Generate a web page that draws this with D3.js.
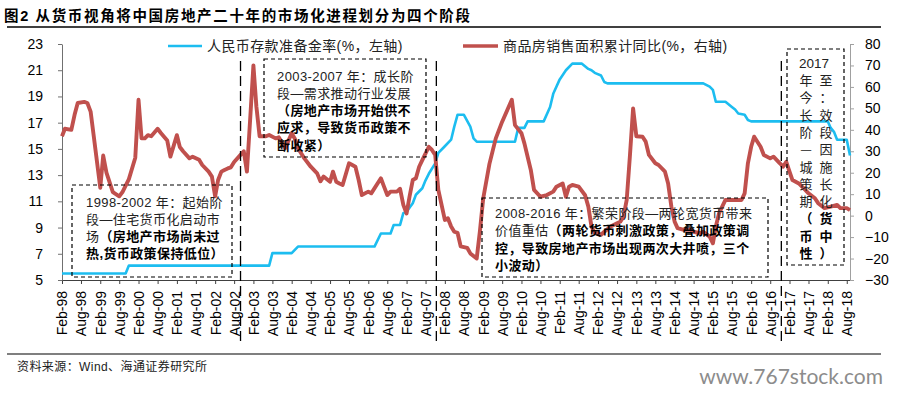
<!DOCTYPE html>
<html>
<head>
<meta charset="utf-8">
<script src="https://cdn.jsdelivr.net/npm/d3@7"></script>
<style>
	body { margin: 0; background: #fff; }
	svg { display: block; font-family: "Liberation Sans", Arial, "Noto Sans CJK SC", sans-serif; }
</style>
</head>
<body>
<svg id="chart" width="899" height="394"></svg>
<script>
// 人民币存款准备金率 (%, left axis) — step points
const rrrSeries = [
	["1998-02", 5.5], ["1999-10", 5.5], ["1999-11", 6.1], ["2003-07", 6.1], ["2003-08", 7.05],
	["2004-02", 7.05], ["2004-04", 7.55], ["2006-04", 7.55], ["2006-06", 8.55], ["2006-09", 8.55],
	["2006-10", 9.2], ["2006-12", 9.2], ["2007-01", 10.1], ["2007-02", 10.2], ["2007-04", 10.85],
	["2007-05", 11.5], ["2007-07", 12], ["2007-08", 12.6], ["2007-09", 13.1], ["2007-11", 13.9],
	["2007-12", 14.7], ["2008-02", 15.2], ["2008-04", 15.7], ["2008-05", 16.7], ["2008-06", 17.6],
	["2008-08", 17.6], ["2008-10", 16.7], ["2008-11", 15.8], ["2008-12", 15.55], ["2009-12", 15.55],
	["2010-01", 16.6], ["2010-03", 16.6], ["2010-04", 17.1], ["2010-09", 17.1], ["2010-11", 18.2],
	["2010-12", 19.2], ["2011-02", 20.3], ["2011-04", 21], ["2011-06", 21.5], ["2011-09", 21.5],
	["2011-11", 21.1], ["2011-12", 21], ["2012-01", 20.8], ["2012-03", 20.6], ["2012-04", 20.1],
	["2012-05", 20], ["2014-11", 20], ["2015-01", 19.75], ["2015-02", 19.5], ["2015-03", 18.6],
	["2015-06", 18.6], ["2015-08", 18.2], ["2015-09", 18], ["2015-10", 17.7], ["2015-12", 17.6],
	["2016-01", 17.2], ["2016-02", 17.1], ["2018-02", 17.1], ["2018-03", 16.6], ["2018-04", 16.3],
	["2018-05", 15.7], ["2018-08", 15.7], ["2018-09", 14.5]
];

// 商品房销售面积累计同比 (%, right axis)
const salesSeries = [
	["1998-02", 37], ["1998-03", 40.5], ["1998-05", 40], ["1998-06", 47], ["1998-07", 52.5],
	["1998-09", 53], ["1998-10", 52.5], ["1998-11", 48.5], ["1998-12", 37], ["1999-02", 13],
	["1999-03", 28], ["1999-04", 20], ["1999-06", 11], ["1999-08", 9], ["1999-09", 11],
	["1999-11", 17], ["2000-01", 27], ["2000-02", 54], ["2000-03", 36], ["2000-04", 36],
	["2000-05", 37.5], ["2000-06", 37], ["2000-08", 40.5], ["2000-09", 38.5], ["2000-11", 35],
	["2000-12", 27.5], ["2001-02", 37.5], ["2001-03", 32], ["2001-04", 30], ["2001-06", 26.7],
	["2001-07", 27.5], ["2001-09", 26], ["2001-10", 23.6], ["2001-12", 20.5], ["2002-01", 18.2],
	["2002-02", 9], ["2002-03", 16.6], ["2002-04", 20.5], ["2002-05", 21.3], ["2002-06", 22],
	["2002-07", 22.5], ["2002-08", 25], ["2002-10", 28.3], ["2002-11", 30], ["2002-12", 20.5],
	["2003-01", 45], ["2003-02", 70], ["2003-03", 51], ["2003-04", 37], ["2003-06", 37],
	["2003-07", 37.6], ["2003-09", 36], ["2003-10", 36.5], ["2003-11", 34], ["2003-12", 31.4],
	["2004-02", 38.4], ["2004-03", 36], ["2004-04", 31.4], ["2004-06", 26.7], ["2004-08", 22.8],
	["2004-10", 19.7], ["2004-11", 16], ["2004-12", 18.2], ["2005-02", 15.8], ["2005-03", 20.5],
	["2005-04", 15.8], ["2005-05", 15], ["2005-06", 14.3], ["2005-08", 24.4], ["2005-09", 23.6],
	["2005-10", 22.8], ["2005-11", 16.6], ["2005-12", 9.6], ["2006-02", 11.2], ["2006-03", 10.4],
	["2006-06", 17.4], ["2006-07", 13.5], ["2006-08", 9.6], ["2006-09", 11.2], ["2006-11", 11.2],
	["2006-12", 12.5], ["2007-01", 5], ["2007-02", 1], ["2007-03", 8.8], ["2007-04", 16.6],
	["2007-05", 17.4], ["2007-06", 22.8], ["2007-07", 25.9], ["2007-09", 32.1], ["2007-10", 30.6],
	["2007-11", 28.3], ["2007-12", 12], ["2008-02", -2], ["2008-03", -1.2], ["2008-04", -5.1],
	["2008-05", -7.5], ["2008-06", -8], ["2008-07", -14.3], ["2008-09", -15], ["2008-10", -17.6],
	["2008-12", -20], ["2009-01", -7], ["2009-02", 8], ["2009-04", 24], ["2009-06", 36],
	["2009-08", 43.8], ["2009-11", 54], ["2009-12", 42.2], ["2010-02", 38.4], ["2010-03", 33.7],
	["2010-05", 21.3], ["2010-06", 12], ["2010-08", 8.8], ["2010-10", 9.6], ["2010-12", 11.2],
	["2011-01", 13.5], ["2011-03", 15], ["2011-04", 8.8], ["2011-05", 13.5], ["2011-06", 14.3],
	["2011-08", 13.5], ["2011-10", 9.5], ["2011-11", 4.2], ["2011-12", -5.1], ["2012-01", -8],
	["2012-03", -8.9], ["2012-04", -7.5], ["2012-06", -5.1], ["2012-08", -3.6], ["2012-09", -2.8],
	["2012-10", -0.5], ["2012-11", 7.3], ["2012-12", 27.5], ["2013-01", 50], ["2013-02", 37],
	["2013-04", 36.8], ["2013-05", 34.5], ["2013-06", 28.3], ["2013-08", 24.4], ["2013-09", 23.6],
	["2013-11", 20.5], ["2013-12", 15], ["2014-01", 4.2], ["2014-02", -2.8], ["2014-03", -5.8],
	["2014-05", -6.6], ["2014-07", -6.6], ["2014-08", -7.5], ["2014-10", -8.2], ["2014-11", -7.5],
	["2015-01", -9.8], ["2015-02", -12.9], ["2015-03", -5.1], ["2015-04", 1.1], ["2015-05", 4.2],
	["2015-06", 7.3], ["2015-11", 7.3], ["2015-12", 10.4], ["2016-01", 24.4], ["2016-02", 32.1],
	["2016-03", 36.8], ["2016-05", 32.1], ["2016-06", 28.3], ["2016-08", 26.7], ["2016-09", 27.5],
	["2016-11", 24.4], ["2016-12", 22.8], ["2017-01", 25.1], ["2017-02", 20.5], ["2017-03", 16.6],
	["2017-05", 15], ["2017-07", 12], ["2017-08", 10.4], ["2017-10", 8.1], ["2017-11", 5.8],
	["2018-01", 3.5], ["2018-03", 4.2], ["2018-05", 5], ["2018-06", 3.5], ["2018-08", 3.5],
	["2018-09", 2.6]
];

const leftTicks = d3.range(5, 24, 2);
const rightTicks = d3.range(-30, 81, 10);
const tickCount = 42; // Feb-98 ... Aug-18, every 6 months
const legendNames = ["人民币存款准备金率(%，左轴)", "商品房销售面积累计同比(%，右轴)"];
const stageDividers = ["2002-10-01", "2007-11-12", "2016-11-15"];

const titleText = "图2  从货币视角将中国房地产二十年的市场化进程划分为四个阶段";
const sourceText = "资料来源：Wind、海通证券研究所";
const watermark = "www.767stock.com";

// stage boxes: [text, bold] segments per line
const stages = [
	{ box: [72, 185, 232, 277], tx: 86, ty: 206.5, lines: [
		[["1998-2002 年：起始阶", false]],
		[["段—住宅货币化启动市", false]],
		[["场", false], ["（房地产市场尚未过", true]],
		[["热,货币政策保持低位）", true]]
	]},
	{ box: [264, 59, 426, 157], tx: 277, ty: 80.5, lines: [
		[["2003-2007 年：成长阶", false]],
		[["段—需求推动行业发展", false]],
		[["（房地产市场开始供不", true]],
		[["应求，导致货币政策不", true]],
		[["断收紧）", true]]
	]},
	{ box: [482, 198, 768, 277], tx: 495, ty: 218, lines: [
		[["2008-2016 年：繁荣阶段—两轮宽货币带来", false]],
		[["价值重估", false], ["（两轮货币刺激政策，叠加政策调", true]],
		[["控，导致房地产市场出现两次大井喷，三个", true]],
		[["小波动）", true]]
	]}
];
const lastStageRows = [
	["年", "至", false], ["今", "：", false], ["长", "效", false], ["阶", "段", false],
	["—", "因", false], ["城", "施", false], ["策", "长", false], ["期", "化", false],
	["（", "货", true], ["币", "中", true], ["性", "）", true]
];

const svg = d3.select("svg#chart");
const margin = { top: 44, right: 49, bottom: 114, left: 62 };
const width = +svg.attr("width");
const height = +svg.attr("height");
const plotRight = width - margin.right;
const plotBottom = height - margin.bottom;

const parseMonth = d3.timeParse("%Y-%m");
const parseDay = d3.timeParse("%Y-%m-%d");
const start = parseMonth("1998-02");
const end = parseMonth("2018-09");

const x = d3.scaleTime([start, end], [margin.left, plotRight]);
const yLeft = d3.scaleLinear([5, 23], [plotBottom, margin.top]);
const yRight = d3.scaleLinear([-30, 80], [plotBottom, margin.top]);

const cjk = '"Noto Sans CJK SC", sans-serif';

// title + rules
svg.append("text")
	.attr("x", 4).attr("y", 21)
	.attr("textLength", 466).attr("lengthAdjust", "spacing")
	.style("font-family", '"Liberation Sans", ' + cjk)
	.style("font-size", "14.5px").style("font-weight", "bold")
	.text(titleText);
svg.append("line").attr("x1", 7).attr("x2", 881).attr("y1", 27).attr("y2", 27)
	.attr("stroke", "#000").attr("stroke-width", 1.5);
svg.append("line").attr("x1", 7).attr("x2", 881).attr("y1", 354).attr("y2", 354)
	.attr("stroke", "#000").attr("stroke-width", 1.2);
svg.append("text")
	.attr("x", 17).attr("y", 371)
	.attr("textLength", 190).attr("lengthAdjust", "spacing")
	.style("font-family", '"Liberation Sans", ' + cjk)
	.style("font-size", "12px").attr("fill", "#222")
	.text(sourceText);
svg.append("text")
	.attr("x", 883).attr("y", 384).attr("text-anchor", "end")
	.style("font-family", "Lato, 'Open Sans', sans-serif")
	.style("font-size", "21px").attr("fill", "#8c8c8c")
	.text(watermark);

// axes
const xTicks = d3.range(tickCount).map((i) => d3.timeMonth.offset(start, i * 6));
svg.append("g")
	.attr("transform", `translate(0,${plotBottom})`)
	.call(d3.axisBottom(x).tickValues(xTicks).tickSize(4).tickSizeOuter(0)
		.tickFormat(d3.timeFormat("%b-%y")))
	.call((g) => g.selectAll("line, path").attr("stroke", "#404040"))
	.selectAll("text")
	.attr("transform", "rotate(-90)")
	.attr("text-anchor", "end")
	.attr("x", -11).attr("y", 0).attr("dy", "0.35em")
	.style("font-family", '"Liberation Sans", Arial, sans-serif')
	.style("font-size", "14px").attr("fill", "#000");

svg.append("g")
	.attr("transform", `translate(${margin.left},0)`)
	.call(d3.axisLeft(yLeft).tickValues(leftTicks).tickSize(4).tickPadding(15).tickSizeOuter(0))
	.call((g) => g.selectAll("line, path").attr("stroke", "#707070"))
	.selectAll("text")
	.style("font-family", '"Liberation Sans", Arial, sans-serif')
	.style("font-size", "14px").attr("fill", "#000");

svg.append("g")
	.attr("transform", `translate(${plotRight},0)`)
	.call(d3.axisRight(yRight).tickValues(rightTicks).tickSize(4).tickPadding(11).tickSizeOuter(0))
	.call((g) => g.selectAll("line, path").attr("stroke", "#a0a0a0"))
	.selectAll("text")
	.style("font-family", '"Liberation Sans", Arial, sans-serif')
	.style("font-size", "14px").attr("fill", "#000");

// series
const rrrLine = d3.line()
	.x((d) => x(parseMonth(d[0])))
	.y((d) => yLeft(d[1]));
const salesLine = d3.line()
	.x((d) => x(parseMonth(d[0])))
	.y((d) => yRight(d[1]));

svg.append("path").datum(rrrSeries)
	.attr("d", rrrLine).attr("fill", "none")
	.attr("stroke", "#1CBDF0").attr("stroke-width", 2.6)
	.attr("stroke-linejoin", "round");
svg.append("path").datum(salesSeries)
	.attr("d", salesLine).attr("fill", "none")
	.attr("stroke", "#C0504D").attr("stroke-width", 3.9)
	.attr("stroke-linejoin", "round");

// stage dividers
svg.selectAll("line.divider")
	.data(stageDividers)
	.join("line")
	.attr("class", "divider")
	.attr("x1", (d) => x(parseDay(d))).attr("x2", (d) => x(parseDay(d)))
	.attr("y1", 61).attr("y2", 343)
	.attr("stroke", "#000").attr("stroke-width", 1.3)
	.attr("stroke-dasharray", "10,5");

// legend
const legendItems = [
	{ name: legendNames[0], color: "#1CBDF0", width: 2.6, x0: 168, x1: 202 },
	{ name: legendNames[1], color: "#C0504D", width: 3.4, x0: 463, x1: 498 }
];
const legend = svg.append("g");
legend.selectAll("line")
	.data(legendItems)
	.join("line")
	.attr("x1", (d) => d.x0).attr("x2", (d) => d.x1)
	.attr("y1", 46).attr("y2", 46)
	.attr("stroke", (d) => d.color).attr("stroke-width", (d) => d.width);
legend.selectAll("text")
	.data(legendItems)
	.join("text")
	.attr("x", (d) => d.x1 + 5).attr("y", 51)
	.style("font-family", '"Liberation Sans", ' + cjk)
	.style("font-size", "14px").attr("fill", "#222")
	.style("letter-spacing", "0.4px")
	.text((d) => d.name);

// stage boxes
const boxStyle = (sel) => sel
	.attr("fill", "none").attr("stroke", "#000")
	.attr("stroke-width", 1.2).attr("stroke-dasharray", "4,3");

stages.forEach((s) => {
	const [x0, y0, x1, y1] = s.box;
	svg.append("rect")
		.attr("x", x0).attr("y", y0).attr("width", x1 - x0).attr("height", y1 - y0)
		.call(boxStyle);
	s.lines.forEach((segs, i) => {
		const t = svg.append("text")
			.attr("x", s.tx).attr("y", s.ty + i * 17.3)
			.style("font-family", '"Liberation Sans", ' + cjk)
			.style("font-size", "13px").style("letter-spacing", "0.4px");
		segs.forEach(([txt, bold]) => {
			t.append("tspan")
				.attr("fill", bold ? "#000" : "#222")
				.style("font-weight", bold ? "bold" : "normal")
				.text(txt);
		});
	});
});

// 2017 box: narrow, two characters per row
svg.append("rect")
	.attr("x", 787).attr("y", 49).attr("width", 57).attr("height", 216)
	.call(boxStyle);
svg.append("text")
	.attr("x", 799).attr("y", 68)
	.style("font-size", "13.5px").attr("fill", "#222")
	.text("2017");
lastStageRows.forEach(([a, b, bold], i) => {
	[[a, 806], [b, 826]].forEach(([ch, cx]) => {
		svg.append("text")
			.attr("x", cx).attr("y", 85 + i * 17.3)
			.attr("text-anchor", "middle")
			.style("font-family", cjk)
			.style("font-size", "13px")
			.style("font-weight", bold ? "bold" : "normal")
			.attr("fill", bold ? "#000" : "#222")
			.text(ch);
	});
});
</script>
</body>
</html>
